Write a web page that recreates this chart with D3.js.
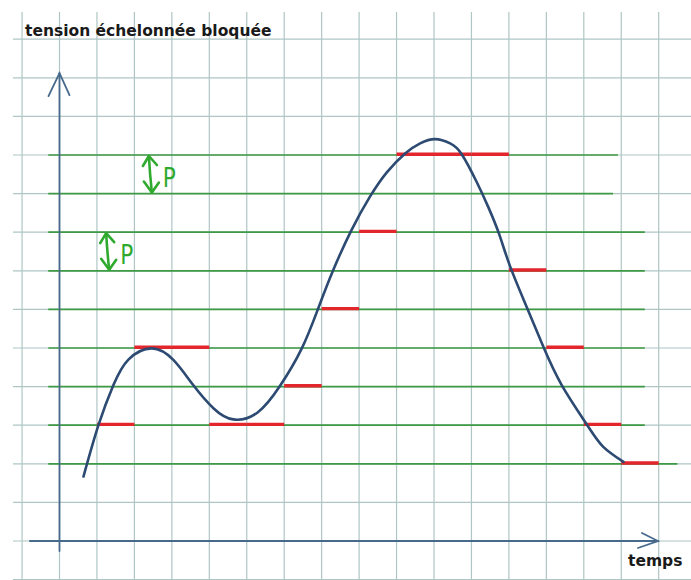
<!DOCTYPE html>
<html>
<head>
<meta charset="utf-8">
<script src="https://cdn.jsdelivr.net/npm/d3@7"></script>
<style>
  html, body { margin: 0; padding: 0; background: #ffffff; }
  svg { display: block; }
</style>
</head>
<body>
<svg id="chart" width="691" height="580"></svg>
<script>
// ---------------- DATA (grid units: time = columns, tension = rows) ----------------
const titleText = "tension échelonnée bloquée";
const xAxisLabel = "temps";
const annotationLabel = "P";

// continuous signal (blue curve)
const signalTime  = [0.64, 1.04, 1.44, 1.84, 2.46, 3.04, 3.57, 4.11, 4.64, 5.29, 5.89, 6.47, 6.91, 7.31, 7.80, 8.29,
                     8.74, 9.23, 9.63, 10.03, 10.43, 10.74, 11.14, 11.45, 11.74, 12.03, 12.48, 12.92, 13.41, 14.08, 14.52, 15.06];
const signalValue = [1.67, 3.00, 4.04, 4.70, 4.99, 4.69, 4.04, 3.44, 3.15, 3.33, 4.02, 4.99, 6.03, 7.02, 8.06, 8.92,
                     9.55, 10.04, 10.30, 10.41, 10.30, 10.02, 9.30, 8.65, 7.95, 7.12, 6.05, 5.03, 4.04, 3.02, 2.44, 2.05];

// quantization levels (green lines) and where each one stops on the right
const quantLevels   = [2, 3, 4, 5, 6, 7, 8, 9, 10];
const quantLevelEnd = [16.5, 15.63, 15.63, 15.63, 15.63, 15.63, 15.63, 14.78, 14.91];

// sampled & held values (red segments), each held for one time step
const sampleTimes  = [1, 2, 3, 4, 5, 6, 7, 8, 9, 10, 11, 12, 13, 14, 15];
const heldLevels   = [3, 5, 5, 3, 3, 4, 6, 8, 10, 10, 10, 7, 5, 3, 2];

// step annotations: time position, lower level, upper level
const stepAnnotTime  = [2.44, 1.30];
const stepAnnotLow   = [9, 7];
const stepAnnotHigh  = [10, 8];

// grid paper
const gridCols = d3.range(-1, 17);   // vertical lines
const gridRows = d3.range(-1, 14);   // horizontal lines

// ---------------- SCALES ----------------
const W = 691, H = 580;
const x = d3.scaleLinear().domain([0, 16]).range([59.5, 59.5 + 16 * 37.45]);
const y = d3.scaleLinear().domain([0, 13]).range([541, 541 - 13 * 38.6]);

const svg = d3.select("#chart");
svg.append("rect").attr("width", W).attr("height", H).attr("fill", "#ffffff");

// ---------------- GRID ----------------
const grid = svg.append("g").attr("stroke", "#aec6c4").attr("stroke-width", 1.2);
grid.selectAll("line.v").data(gridCols).join("line")
  .attr("class", "v")
  .attr("x1", d => x(d)).attr("x2", d => x(d))
  .attr("y1", 12).attr("y2", H);
grid.selectAll("line.h").data(gridRows).join("line")
  .attr("class", "h")
  .attr("x1", 13).attr("x2", W)
  .attr("y1", d => y(d)).attr("y2", d => y(d));

// ---------------- QUANTIZATION LEVELS ----------------
svg.append("g").selectAll("line").data(quantLevels).join("line")
  .attr("x1", x(-0.3)).attr("x2", (d, i) => x(quantLevelEnd[i]))
  .attr("y1", d => y(d)).attr("y2", d => y(d))
  .attr("stroke", "#3e9a44").attr("stroke-width", 1.7);

// ---------------- AXES ----------------
const axisColor = "#46698c";
const axes = svg.append("g").attr("stroke", axisColor).attr("stroke-width", 1.8)
  .attr("fill", "none").attr("stroke-linecap", "round");
// y axis
axes.append("line").attr("x1", x(0)).attr("x2", x(0)).attr("y1", y(-0.26)).attr("y2", y(12.12));
axes.append("path").attr("d", `M${x(0) - 11},${y(12.12) + 23} L${x(0)},${y(12.12)} L${x(0) + 10},${y(12.12) + 22}`);
// x axis
axes.append("line").attr("x1", x(-0.79)).attr("x2", x(15.98)).attr("y1", y(0)).attr("y2", y(0));
axes.append("path").attr("d", `M${x(15.98) - 16},${y(0) - 8} L${x(15.98)},${y(0)} L${x(15.98) - 20},${y(0) + 7}`);

// ---------------- HELD SAMPLES (red) ----------------
svg.append("g").selectAll("line").data(sampleTimes).join("line")
  .attr("x1", d => x(d)).attr("x2", d => x(d + 1))
  .attr("y1", (d, i) => y(heldLevels[i]) - 0.8).attr("y2", (d, i) => y(heldLevels[i]) - 0.8)
  .attr("stroke", "#e2262c").attr("stroke-width", 3.4);

// ---------------- SIGNAL (blue curve) ----------------
const signal = signalTime.map((t, i) => [t, signalValue[i]]);
svg.append("path")
  .datum(signal)
  .attr("d", d3.line().x(d => x(d[0])).y(d => y(d[1])).curve(d3.curveNatural))
  .attr("fill", "none").attr("stroke", "#2c4a72").attr("stroke-width", 2.6)
  .attr("stroke-linecap", "round");

// ---------------- STEP ANNOTATIONS ----------------
const green = "#2faa2f";
stepAnnotTime.forEach((t, i) => {
  const cx = x(t), yTop = y(stepAnnotHigh[i]) + 1, yBot = y(stepAnnotLow[i]) - 1;
  const g = svg.append("g").attr("stroke", green).attr("stroke-width", 2.6)
    .attr("fill", "none").attr("stroke-linecap", "round").attr("stroke-linejoin", "round");
  g.append("path").attr("d", `M${cx - 2},${yTop} Q${cx - 1},${(yTop + yBot) / 2} ${cx + 1},${yBot}`);
  g.append("path").attr("d", `M${cx - 8},${yTop + 10} L${cx - 2},${yTop} L${cx + 6},${yTop + 9}`);
  g.append("path").attr("d", `M${cx - 7},${yBot - 11} L${cx + 1},${yBot} L${cx + 8},${yBot - 10}`);
  const tx = cx + 12, ty = yBot - 6;
  svg.append("text")
    .attr("x", tx).attr("y", ty)
    .attr("font-family", "'DejaVu Sans', sans-serif")
    .attr("font-size", 27).attr("fill", green)
    .attr("transform", `translate(${tx},${ty}) scale(0.8,1) translate(${-tx},${-ty})`)
    .text(annotationLabel);
});

// ---------------- TEXTS ----------------
svg.append("text")
  .attr("x", 25).attr("y", 36)
  .attr("font-family", "'DejaVu Sans', Verdana, sans-serif")
  .attr("font-weight", "bold").attr("font-size", 15.5).attr("fill", "#1a1a1a")
  .text(titleText);

svg.append("text")
  .attr("x", 628).attr("y", 566)
  .attr("font-family", "'DejaVu Sans', Verdana, sans-serif")
  .attr("font-weight", "bold").attr("font-size", 15.5).attr("fill", "#1a1a1a")
  .text(xAxisLabel);
</script>
</body>
</html>
